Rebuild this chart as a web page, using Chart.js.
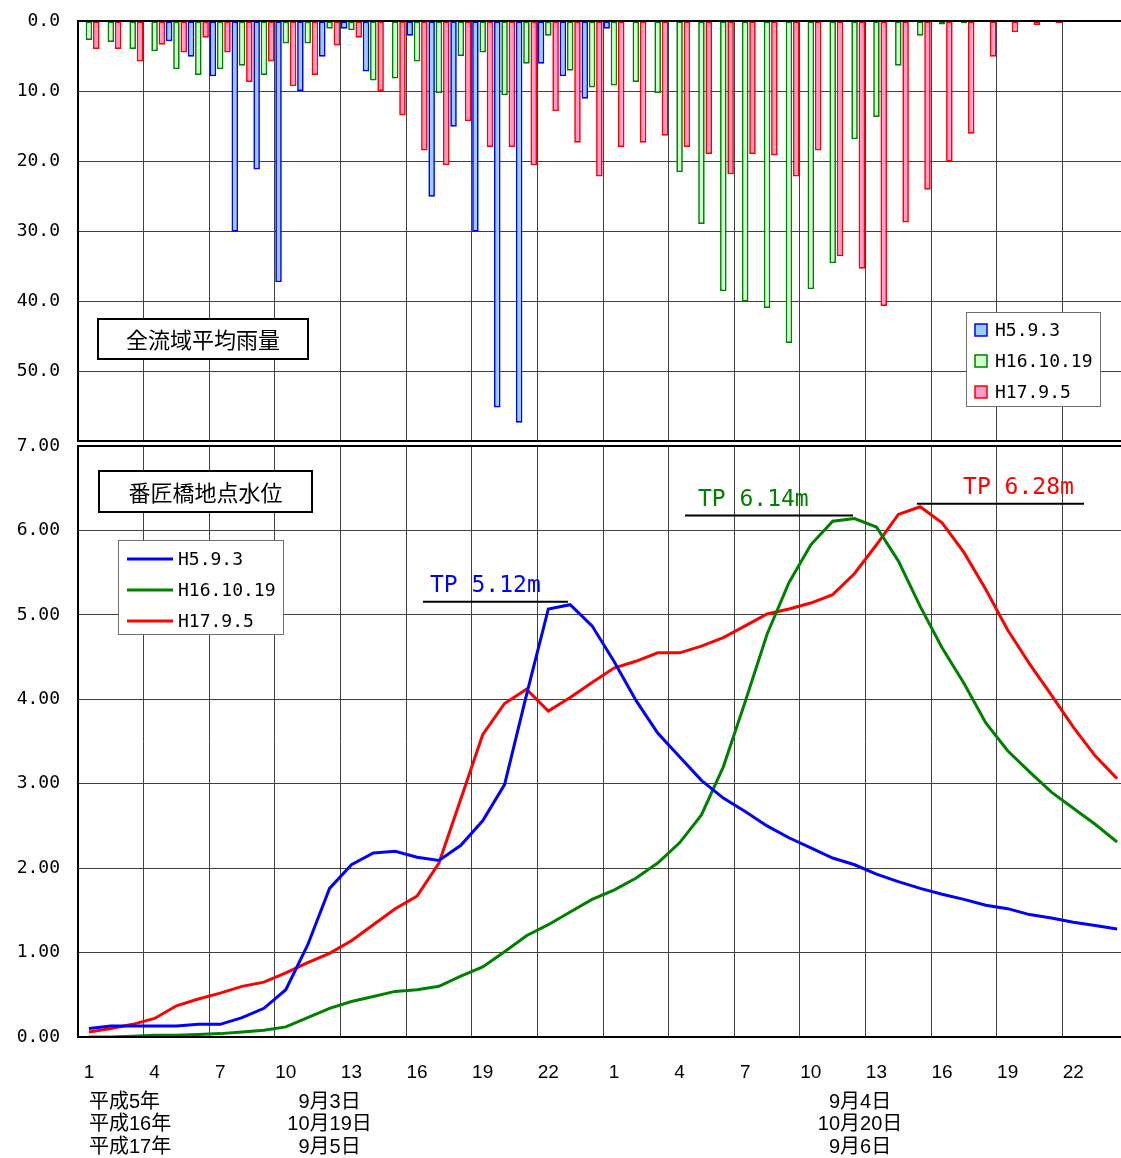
<!DOCTYPE html>
<html>
<head>
<meta charset="utf-8">
<script src="https://cdn.jsdelivr.net/npm/chart.js@4.4.1/dist/chart.umd.min.js"></script>
<style>
html, body { margin: 0; padding: 0; background: #fff; overflow: hidden; width: 1121px; height: 1158px; }
#wrap { position: relative; width: 1128px; height: 1158px; }
#rain { position: absolute; left: 0; top: 0; }
#level { position: absolute; left: 0; top: 428px; }
</style>
</head>
<body>
<div id="wrap">
  <canvas id="rain" width="1128" height="446"></canvas>
  <canvas id="level" width="1128" height="730"></canvas>
</div>
<script>
// hours of two days (1..24, 1..24)
const hours = ['1','2','3','4','5','6','7','8','9','10','11','12','13','14','15','16','17','18','19','20','21','22','23','24',
               '1','2','3','4','5','6','7','8','9','10','11','12','13','14','15','16','17','18','19','20','21','22','23','24'];
const seriesNames = ['H5.9.3', 'H16.10.19', 'H17.9.5'];

// 全流域平均雨量 (mm)
const rainH5  = [0,0,0,0,2.9,5.1,7.9,30.1,21.2,37.3,10.0,5.1,1.1,7.2,0,2.1,25.1,15.1,30.1,55.2,57.4,6.1,7.9,11.1,
                 1.1,0,0,0,0,0,0,0,0,0,0,0,0,0,0,0,0,0,0,0,0,0,0,0];
const rainH16 = [2.7,3.0,4.0,4.3,6.9,7.7,6.9,6.4,7.7,3.2,3.2,1.1,1.3,8.5,8.2,5.8,10.3,5.0,4.5,10.6,6.1,2.1,7.1,9.5,
                 9.2,8.7,10.3,21.6,29.0,38.6,40.1,41.0,46.0,38.3,34.6,16.9,13.7,6.4,2.1,0.5,0.3,0,0,0,0,0,0,0];
const rainH17 = [4.0,4.0,5.8,3.4,4.5,2.4,4.5,8.7,5.8,9.3,7.7,3.5,2.4,10.0,13.5,18.5,20.6,14.3,18.0,18.0,20.6,12.9,17.4,22.2,
                 18.0,17.4,16.4,18.0,19.0,21.9,19.0,19.2,22.2,18.5,33.6,35.4,40.7,28.8,24.1,20.1,16.1,5.1,1.6,0.6,0.3,0,0,0];

// 番匠橋地点水位 (m)
const levelH5  = [0.10,0.13,0.13,0.13,0.13,0.15,0.15,0.23,0.34,0.56,1.09,1.76,2.04,2.18,2.20,2.13,2.09,2.27,2.56,2.99,4.05,5.07,5.12,4.87,
                  4.45,3.99,3.60,3.32,3.04,2.83,2.67,2.50,2.36,2.24,2.12,2.04,1.93,1.84,1.76,1.69,1.63,1.56,1.52,1.45,1.41,1.36,1.32,1.28];
const levelH16 = [0.00,0.00,0.01,0.02,0.02,0.03,0.04,0.06,0.08,0.12,0.23,0.34,0.42,0.48,0.54,0.56,0.60,0.72,0.83,1.01,1.20,1.33,1.48,1.63,
                  1.74,1.88,2.06,2.30,2.63,3.20,3.97,4.77,5.38,5.83,6.11,6.14,6.04,5.64,5.10,4.61,4.19,3.72,3.39,3.14,2.90,2.71,2.52,2.31];
const levelH17 = [0.06,0.10,0.15,0.22,0.37,0.45,0.52,0.60,0.65,0.76,0.88,0.99,1.14,1.33,1.52,1.67,2.06,2.82,3.58,3.95,4.12,3.86,4.02,4.20,
                  4.37,4.45,4.55,4.55,4.63,4.73,4.87,5.01,5.07,5.14,5.24,5.49,5.83,6.19,6.28,6.09,5.74,5.30,4.82,4.42,4.05,3.67,3.33,3.06];

// peak labels
const peakLabels = ['TP 5.12m', 'TP 6.14m', 'TP 6.28m'];
const peakValues = [5.12, 6.14, 6.28];

// x axis date labels
const yearLabels = ['平成5年', '平成16年', '平成17年'];
const day1Labels = ['9月3日', '10月19日', '9月5日'];
const day2Labels = ['9月4日', '10月20日', '9月6日'];

const lineColors = ['#0000ff', '#008000', '#ff0000'];
const fillColors = ['#99ccff', '#ccffcc', '#ff99cc'];
const monoFont = '"DejaVu Sans Mono", monospace';
const gridColor = '#404040';

// kill the automatic label overflow padding so the plot areas line up
function noPad(s) {
  s.paddingTop = 0; s.paddingBottom = 0; s.paddingLeft = 0; s.paddingRight = 0;
}

const frame = {
  id: 'frame',
  afterDatasetsDraw(chart) {
    const { ctx, chartArea: a } = chart;
    ctx.save();
    ctx.strokeStyle = '#000';
    ctx.lineWidth = 2;
    ctx.strokeRect(a.left, a.top, a.right - a.left, a.bottom - a.top);
    ctx.restore();
  }
};

function titleBox(ctx, text, x, y, w, h) {
  ctx.save();
  ctx.fillStyle = '#fff';
  ctx.fillRect(x, y, w, h);
  ctx.strokeStyle = '#000';
  ctx.lineWidth = 2;
  ctx.strokeRect(x, y, w, h);
  ctx.fillStyle = '#000';
  ctx.font = '22px "Noto Sans CJK JP"';
  ctx.textAlign = 'center';
  ctx.textBaseline = 'middle';
  ctx.fillText(text, x + w / 2, y + h / 2 + 1);
  ctx.restore();
}

const rainDecor = {
  id: 'rainDecor',
  afterDraw(chart) {
    const ctx = chart.ctx;
    titleBox(ctx, '全流域平均雨量', 98, 319, 210, 40);
    // legend
    ctx.save();
    ctx.fillStyle = '#fff';
    ctx.fillRect(966, 312, 134, 94);
    ctx.strokeStyle = '#707070';
    ctx.lineWidth = 1;
    ctx.strokeRect(966.5, 312.5, 134, 94);
    ctx.font = '18px ' + monoFont;
    ctx.textBaseline = 'middle';
    seriesNames.forEach((n, i) => {
      const cy = 330 + i * 31;
      ctx.fillStyle = fillColors[i];
      ctx.fillRect(975, cy - 6, 12, 12);
      ctx.strokeStyle = lineColors[i];
      ctx.lineWidth = 1.5;
      ctx.strokeRect(975, cy - 6, 12, 12);
      ctx.fillStyle = '#000';
      ctx.fillText(n, 995, cy + 1);
    });
    ctx.restore();
  }
};

const levelDecor = {
  id: 'levelDecor',
  afterDatasetsDraw(chart) {
    const { ctx, scales: { x, y } } = chart;
    const spans = [[15.27, 21.9, 15.59], [27.25, 34.93, 27.84], [37.85, 45.49, 39.96]];
    ctx.save();
    peakLabels.forEach((t, i) => {
      const ly = y.getPixelForValue(peakValues[i]) - 3;
      ctx.strokeStyle = '#000';
      ctx.lineWidth = 2;
      ctx.beginPath();
      ctx.moveTo(x.getPixelForValue(spans[i][0]), ly);
      ctx.lineTo(x.getPixelForValue(spans[i][1]), ly);
      ctx.stroke();
      ctx.fillStyle = lineColors[i];
      ctx.font = '23px ' + monoFont;
      ctx.textBaseline = 'middle';
      ctx.fillText(t, x.getPixelForValue(spans[i][2]), ly - 16);
    });
    ctx.restore();
  },
  afterDraw(chart) {
    const { ctx, scales: { x }, chartArea: a } = chart;
    titleBox(ctx, '番匠橋地点水位', 99, 43, 213, 41);
    // legend
    ctx.save();
    ctx.fillStyle = '#fff';
    ctx.fillRect(118, 112, 165, 94);
    ctx.strokeStyle = '#707070';
    ctx.lineWidth = 1;
    ctx.strokeRect(118.5, 112.5, 165, 94);
    ctx.font = '18px ' + monoFont;
    ctx.textBaseline = 'middle';
    seriesNames.forEach((n, i) => {
      const cy = 131 + i * 31;
      ctx.strokeStyle = lineColors[i];
      ctx.lineWidth = 3;
      ctx.beginPath();
      ctx.moveTo(127, cy);
      ctx.lineTo(173, cy);
      ctx.stroke();
      ctx.fillStyle = '#000';
      ctx.fillText(n, 178, cy + 1);
    });
    // date labels under the axis
    ctx.fillStyle = '#000';
    ctx.font = '20px "Liberation Sans", "Noto Sans CJK JP"';
    ctx.textBaseline = 'middle';
    const x0 = x.getPixelForValue(0);
    const x1 = x.getPixelForValue(11);
    const x2 = x.getPixelForValue(35.25);
    for (let i = 0; i < 3; i++) {
      const cy = a.bottom + 65 + i * 22.5;
      ctx.textAlign = 'left';
      ctx.fillText(yearLabels[i], x0, cy);
      ctx.textAlign = 'center';
      ctx.fillText(day1Labels[i], x1, cy);
      ctx.fillText(day2Labels[i], x2, cy);
    }
    ctx.restore();
  }
};

const everyThird = ctx => (ctx.index % 3 === 0 ? gridColor : 'rgba(0,0,0,0)');

new Chart(document.getElementById('rain'), {
  type: 'bar',
  data: {
    labels: hours,
    datasets: [rainH5, rainH16, rainH17].map((d, i) => ({
      label: seriesNames[i],
      data: d,
      backgroundColor: fillColors[i],
      borderColor: lineColors[i],
      borderWidth: 1.7,
      borderSkipped: false,
      categoryPercentage: 1.0,
      barPercentage: 0.9
    }))
  },
  options: {
    responsive: false,
    animation: false,
    layout: { padding: { top: 21, bottom: 5, left: 0, right: 0 } },
    plugins: { legend: { display: false }, tooltip: { enabled: false } },
    scales: {
      x: {
        offset: true,
        grid: { offset: true, color: everyThird, drawTicks: false },
        border: { display: false },
        ticks: { display: false },
        afterFit: s => { s.height = 0; noPad(s); }
      },
      y: {
        min: 0, max: 60, reverse: true,
        grid: { color: gridColor, drawTicks: false },
        border: { display: false },
        ticks: {
          stepSize: 10, padding: 18, color: '#000',
          font: { family: monoFont, size: 18 },
          callback: v => (v === 60 ? '' : v.toFixed(1))
        },
        afterFit: s => { s.width = 78; noPad(s); }
      }
    }
  },
  plugins: [frame, rainDecor]
});

new Chart(document.getElementById('level'), {
  type: 'line',
  data: {
    labels: hours,
    datasets: [levelH5, levelH16, levelH17].map((d, i) => ({
      label: seriesNames[i],
      data: d,
      borderColor: lineColors[i],
      backgroundColor: lineColors[i],
      borderWidth: 3,
      pointRadius: 0,
      tension: 0,
      fill: false
    }))
  },
  options: {
    responsive: false,
    animation: false,
    layout: { padding: { top: 18, bottom: 0, left: 0, right: 0 } },
    plugins: { legend: { display: false }, tooltip: { enabled: false } },
    scales: {
      x: {
        offset: true,
        grid: { offset: true, color: everyThird, drawTicks: false },
        border: { display: false },
        ticks: {
          autoSkip: false, maxRotation: 0, padding: 24, color: '#000',
          font: { family: '"Liberation Sans", Arial', size: 19 },
          callback: function (v, i) { return i % 3 === 0 ? this.getLabelForValue(v) : ''; }
        },
        afterFit: s => { s.height = 121; noPad(s); }
      },
      y: {
        min: 0, max: 7,
        grid: { color: gridColor, drawTicks: false },
        border: { display: false },
        ticks: {
          stepSize: 1, padding: 18, color: '#000',
          font: { family: monoFont, size: 18 },
          callback: v => v.toFixed(2)
        },
        afterFit: s => { s.width = 78; noPad(s); }
      }
    }
  },
  plugins: [frame, levelDecor]
});
</script>
</body>
</html>
